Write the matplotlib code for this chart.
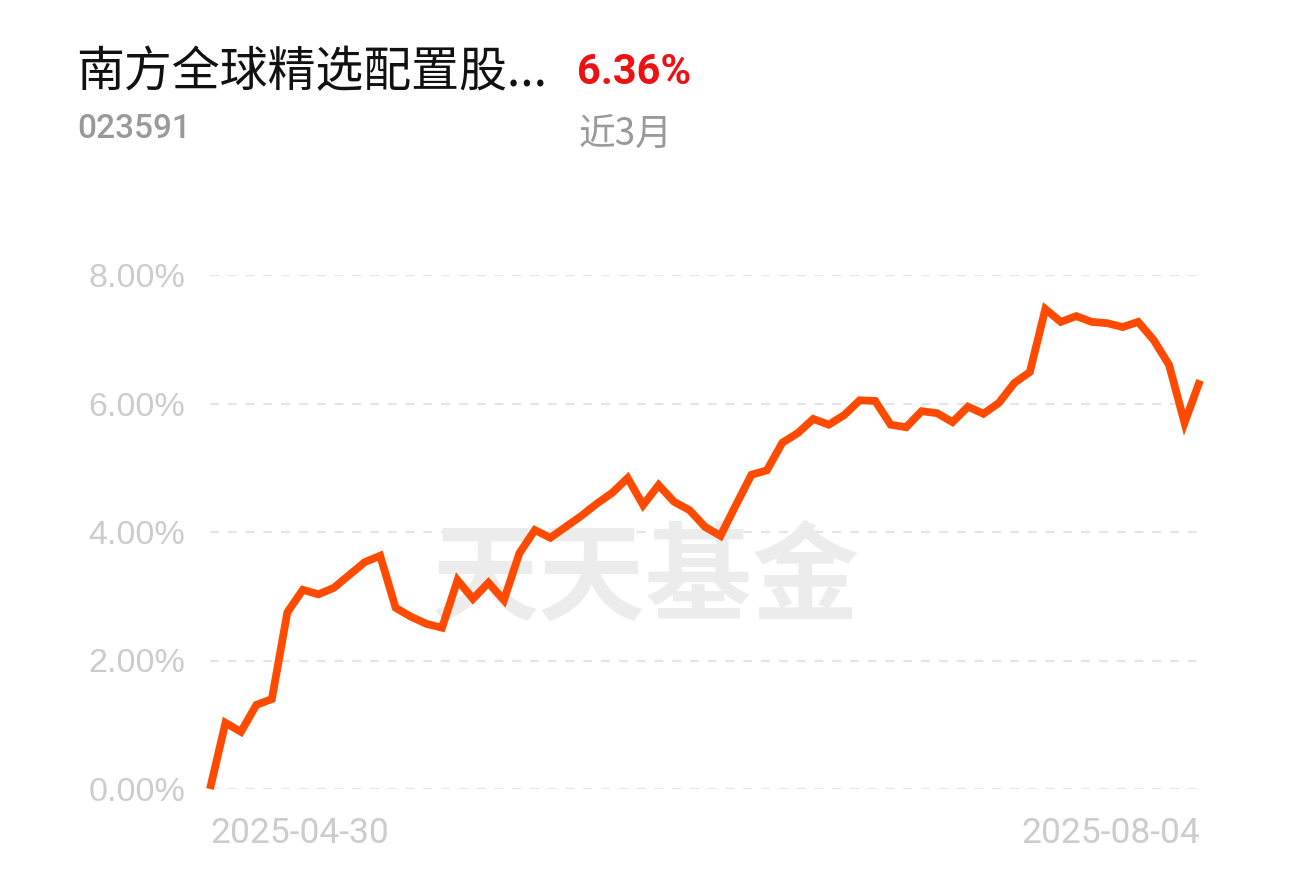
import matplotlib
matplotlib.use("Agg")
import matplotlib.pyplot as plt
from matplotlib.ticker import FuncFormatter

# fund info
fund_name = "南方全球精选配置股..."
fund_code = "023591"
period_label = "近3月"
period_return = "6.36%"
watermark = "天天基金"

# cumulative return (%), one point per trading day
returns = [
    0.00, 1.03, 0.89, 1.31, 1.40, 2.75, 3.10, 3.03, 3.13, 3.33,
    3.53, 3.63, 2.82, 2.68, 2.57, 2.51, 3.25, 2.96, 3.21, 2.94,
    3.67, 4.03, 3.91, 4.08, 4.25, 4.44, 4.61, 4.84, 4.42, 4.73,
    4.47, 4.34, 4.08, 3.94, 4.42, 4.89, 4.96, 5.39, 5.54, 5.76,
    5.67, 5.82, 6.05, 6.04, 5.67, 5.63, 5.88, 5.85, 5.71, 5.95,
    5.84, 6.01, 6.32, 6.49, 7.47, 7.27, 7.36, 7.27, 7.25, 7.19,
    7.27, 6.99, 6.60, 5.70, 6.36,
]
date_labels = ["2025-04-30", "2025-08-04"]
y_ticks = [0, 2, 4, 6, 8]

W, H = 1290, 892
fig = plt.figure(figsize=(W / 100, H / 100), dpi=100)
fig.patch.set_facecolor("white")

ax = fig.add_axes([210 / W, 1 - 789 / H, 990 / W, (789 - 275) / H])
x = list(range(len(returns)))
ax.plot(x, returns, color="#ff4a00", lw=5.6, solid_joinstyle="miter",
        solid_capstyle="butt", clip_on=False, zorder=3)
ax.set_xlim(0, len(returns) - 1)
ax.set_ylim(0, 8)

for s in ax.spines.values():
    s.set_visible(False)

ax.set_yticks(y_ticks)
ax.yaxis.set_major_formatter(FuncFormatter(lambda v, p: f"{v:.2f}%"))
ax.yaxis.grid(True, color="#e4e4e4", lw=1.6, linestyle=(0, (4, 4)))
ax.set_axisbelow(True)
ax.tick_params(axis="y", length=0, pad=18, labelsize=24.5, labelcolor="#cccccc")
for t in ax.get_yticklabels():
    t.set_fontfamily("Liberation Sans")

ax.set_xticks([0, len(returns) - 1])
ax.set_xticklabels(date_labels)
ax.tick_params(axis="x", length=0, pad=20, labelsize=25.5, labelcolor="#cccccc")
xl = ax.get_xticklabels()
xl[0].set_ha("left")
xl[1].set_ha("right")
for t in xl:
    t.set_fontfamily("Roboto")

ax.text(0.44, 0.405, watermark, transform=ax.transAxes, ha="center", va="center",
        fontsize=77, fontweight="bold", color="#ececec",
        family=["Noto Sans CJK SC", "DejaVu Sans"], zorder=1)

# header
fig.text(76 / W, 1 - 72 / H, fund_name, ha="left", va="center", fontsize=34.5,
         color="#111111", family=["Noto Sans CJK SC", "DejaVu Sans"])
fig.text(577 / W, 1 - 73 / H, period_return, ha="left", va="center", fontsize=30,
         fontweight="bold", color="#ee1111", family="Roboto")
fig.text(77 / W, 1 - 129 / H, fund_code, ha="left", va="center", fontsize=24,
         fontweight="medium", color="#999999", family="Roboto")
fig.text(579 / W, 1 - 134 / H, period_label, ha="left", va="center", fontsize=26.5,
         color="#999999", family=["Noto Sans CJK SC", "DejaVu Sans"])

fig.savefig("out.png", dpi=100, facecolor="white")
